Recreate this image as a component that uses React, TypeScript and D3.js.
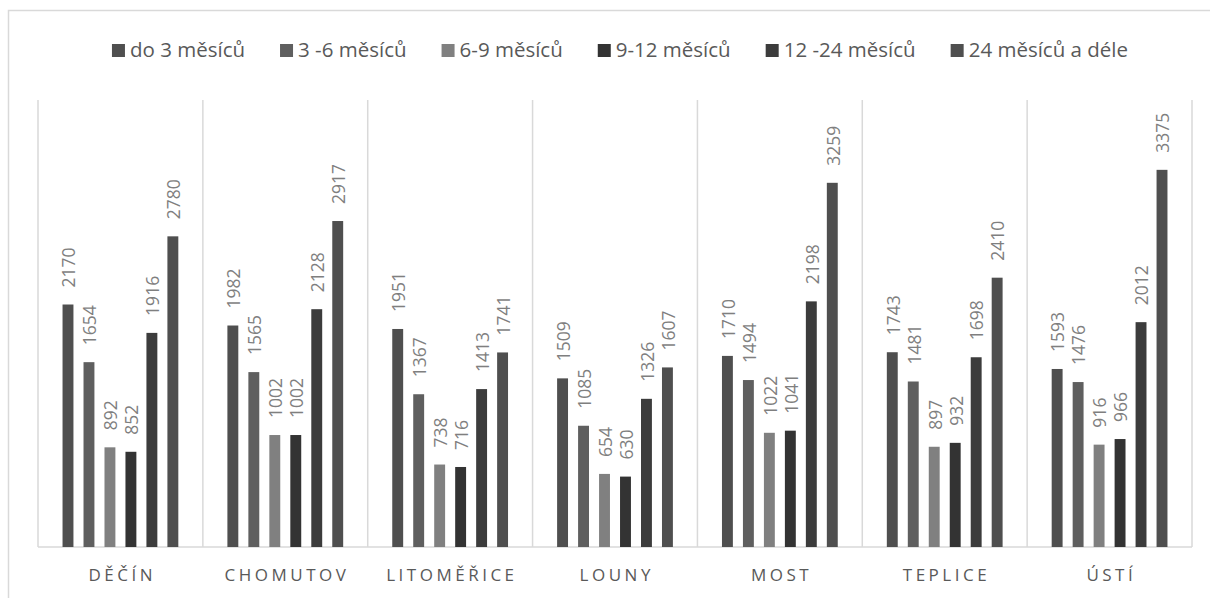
import React, { useEffect, useRef } from "react";
import * as d3 from "d3";

const categories = ["DĚČÍN", "CHOMUTOV", "LITOMĚŘICE", "LOUNY", "MOST", "TEPLICE", "ÚSTÍ"];
const seriesNames = ["do 3 měsíců", "3 -6 měsíců", "6-9 měsíců", "9-12 měsíců", "12 -24 měsíců", "24 měsíců a déle"];
const seriesColors = ["#4f4f4f", "#5f5f5f", "#808080", "#333333", "#3c3c3c", "#4f4f4f"];

const doTriMesicu = [2170, 1982, 1951, 1509, 1710, 1743, 1593];
const triAzSest = [1654, 1565, 1367, 1085, 1494, 1481, 1476];
const sestAzDevet = [892, 1002, 738, 654, 1022, 897, 916];
const devetAzDvanact = [852, 1002, 716, 630, 1041, 932, 966];
const dvanactAzDvacetctyri = [1916, 2128, 1413, 1326, 2198, 1698, 2012];
const nadDvacetctyri = [2780, 2917, 1741, 1607, 3259, 2410, 3375];

const seriesValues = [doTriMesicu, triAzSest, sestAzDevet, devetAzDvanact, dvanactAzDvacetctyri, nadDvacetctyri];

const W = 1210;
const H = 598;
const FONT = "'Open Sans', 'Noto Sans', sans-serif";

export default function App() {
  const ref = useRef<SVGSVGElement | null>(null);

  useEffect(() => {
    document.body.style.margin = "0";
    const svg = d3.select(ref.current);
    svg.selectAll("*").remove();

    const plot = { left: 38, right: 1192, top: 100, bottom: 547 };

    // outer frame
    svg.append("rect")
      .attr("x", 8.5).attr("y", 10.5)
      .attr("width", W).attr("height", H)
      .attr("fill", "none").attr("stroke", "#d9d9d9").attr("stroke-width", 1.5);

    const x = d3.scaleBand<string>().domain(categories).range([plot.left, plot.right]).padding(0);
    const xs = d3.scaleBand<number>()
      .domain(d3.range(seriesNames.length))
      .range([0, x.bandwidth()])
      .paddingInner(0.48)
      .paddingOuter(1.17);
    const y = d3.scaleLinear().domain([0, 4000]).range([plot.bottom, plot.top]);

    // category separators
    const seps = categories.map((c) => x(c)!).concat([plot.right]);
    svg.append("g").selectAll("line").data(seps).join("line")
      .attr("x1", (d) => d).attr("x2", (d) => d)
      .attr("y1", plot.top).attr("y2", plot.bottom)
      .attr("stroke", "#d9d9d9").attr("stroke-width", 1.5);

    // baseline
    svg.append("line")
      .attr("x1", plot.left).attr("x2", plot.right)
      .attr("y1", plot.bottom).attr("y2", plot.bottom)
      .attr("stroke", "#d9d9d9").attr("stroke-width", 1.5);

    // bars and value labels
    seriesValues.forEach((vals, si) => {
      const g = svg.append("g");
      g.selectAll("rect").data(vals).join("rect")
        .attr("x", (_, i) => x(categories[i])! + xs(si)!)
        .attr("width", xs.bandwidth())
        .attr("y", (d) => y(d))
        .attr("height", (d) => plot.bottom - y(d))
        .attr("fill", seriesColors[si]);
      g.selectAll("text").data(vals).join("text")
        .attr("transform", (d, i) => {
          const cx = x(categories[i])! + xs(si)! + xs.bandwidth() / 2 + 1;
          return `translate(${cx},${y(d) - 17}) rotate(-90)`;
        })
        .attr("dy", "0.36em")
        .attr("font-family", FONT)
        .attr("font-size", 17.5)
        .attr("fill", "#7f7f7f")
        .text((d) => String(d));
    });

    // category labels
    svg.append("g").selectAll("text").data(categories).join("text")
      .attr("x", (d) => x(d)! + x.bandwidth() / 2 + 1.75)
      .attr("y", 581)
      .attr("text-anchor", "middle")
      .attr("font-family", FONT)
      .attr("font-size", 17)
      .attr("letter-spacing", 3.5)
      .attr("fill", "#595959")
      .text((d) => d);

    // legend, centred above the plot
    const legend = svg.append("g");
    const marker = 13;
    const markerGap = 5;
    const itemGap = 35;
    const items = seriesNames.map((name, i) => {
      const t = legend.append("text")
        .attr("y", 57)
        .attr("font-family", FONT)
        .attr("font-size", 20.5)
        .attr("fill", "#595959")
        .text(name);
      const r = legend.append("rect")
        .attr("y", 44)
        .attr("width", marker).attr("height", marker)
        .attr("fill", seriesColors[i]);
      return { t, r, w: (t.node() as SVGTextElement).getComputedTextLength() };
    });
    const total = d3.sum(items, (d) => marker + markerGap + d.w) + itemGap * (items.length - 1);
    let lx = 620 - total / 2;
    items.forEach((it) => {
      it.r.attr("x", lx);
      it.t.attr("x", lx + marker + markerGap);
      lx += marker + markerGap + it.w + itemGap;
    });
  }, []);

  return <svg ref={ref} width={W} height={H} style={{ display: "block" }} />;
}
